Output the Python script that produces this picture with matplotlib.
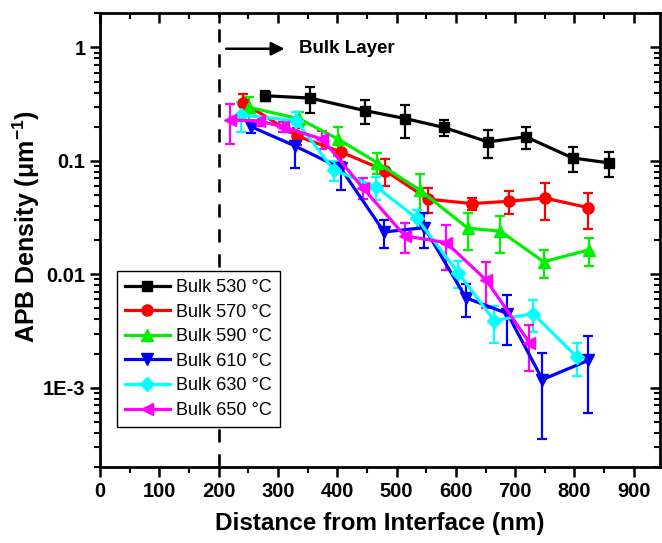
import matplotlib
matplotlib.use('Agg')
import matplotlib.pyplot as plt
from matplotlib.ticker import FixedLocator, LogLocator, MultipleLocator, NullFormatter

plt.rcParams['font.family'] = ['Liberation Sans', 'DejaVu Sans']
plt.rcParams['mathtext.fontset'] = 'custom'
plt.rcParams['mathtext.rm'] = 'Liberation Sans'
plt.rcParams['mathtext.bf'] = 'Liberation Sans:bold'
plt.rcParams['lines.scale_dashes'] = False

# distance from interface (nm), APB density (um^-1), error
x_530 = [279, 354, 447, 515, 580, 654, 718, 797, 858]
y_530 = [0.375, 0.358, 0.277, 0.236, 0.197, 0.147, 0.163, 0.106, 0.096]
e_530 = [0.04, 0.092, 0.067, 0.076, 0.03, 0.04, 0.037, 0.026, 0.024]

x_570 = [241, 333, 406, 481, 553, 627, 689, 750, 823]
y_570 = [0.327, 0.165, 0.12, 0.082, 0.046, 0.042, 0.044, 0.047, 0.0387]
e_570 = [0.063, 0.028, 0.022, 0.022, 0.0115, 0.005, 0.01, 0.0167, 0.0135]

x_590 = [252, 336, 402, 467, 540, 620, 675, 748, 824]
y_590 = [0.296, 0.235, 0.155, 0.0966, 0.055, 0.0255, 0.024, 0.0129, 0.0164]
e_590 = [0.068, 0.035, 0.045, 0.02, 0.0215, 0.009, 0.0085, 0.0036, 0.0045]

x_610 = [255, 328, 406, 479, 547, 617, 687, 746, 823]
y_610 = [0.2, 0.136, 0.086, 0.0236, 0.0258, 0.0062, 0.0045, 0.00118, 0.00174]
e_610 = [0.025, 0.049, 0.031, 0.0065, 0.0089, 0.002, 0.0021, 0.00083, 0.00114]

x_630 = [237, 331, 394, 466, 534, 604, 665, 730, 804]
y_630 = [0.255, 0.225, 0.083, 0.059, 0.0312, 0.0103, 0.0039, 0.0045, 0.00187]
e_630 = [0.075, 0.047, 0.017, 0.0135, 0.006, 0.00275, 0.0014, 0.0014, 0.0006]

x_650 = [219, 268, 308, 375, 443, 514, 584, 651, 724]
y_650 = [0.229, 0.225, 0.2, 0.155, 0.058, 0.0218, 0.019, 0.0089, 0.0025]
e_650 = [0.087, 0.02, 0.02, 0.027, 0.012, 0.0065, 0.0082, 0.0039, 0.0011]

labels = ['Bulk 530 °C', 'Bulk 570 °C', 'Bulk 590 °C', 'Bulk 610 °C', 'Bulk 630 °C', 'Bulk 650 °C']
colors = ['black', 'red', '#00f000', 'blue', 'cyan', 'magenta']
markers = ['s', 'o', '^', 'v', 'D', '<']
msizes = [7, 8, 9, 9, 7, 9]

series = [(x_530, y_530, e_530), (x_570, y_570, e_570), (x_590, y_590, e_590),
          (x_610, y_610, e_610), (x_630, y_630, e_630), (x_650, y_650, e_650)]

fig = plt.figure(figsize=(6.62, 5.43), dpi=100)
ax = fig.add_axes([0.151, 0.14, 0.8467, 0.8355])

handles = []
for (xs, ys, es), lab, c, m, ms in zip(series, labels, colors, markers, msizes):
    cont = ax.errorbar(xs, ys, yerr=es, color=c, marker=m, markersize=ms, linewidth=2.3,
                       elinewidth=1.6, capsize=3.5, capthick=1.6, label=lab)
    handles.append(cont[0])

ax.axvline(200, color='black', linewidth=1.9, dashes=(9.5, 8.5))
ax.annotate('', xy=(316, 0.974), xytext=(208, 0.974),
            arrowprops=dict(arrowstyle='-|>', color='black', lw=1.8, mutation_scale=20))
ax.text(335, 0.974, 'Bulk Layer', fontsize=13.5, fontweight='bold', va='center', ha='left')

ax.set_yscale('log')
ax.set_xlim(0, 945)
ax.set_ylim(2e-4, 2)

ax.xaxis.set_major_locator(MultipleLocator(100))
ax.xaxis.set_minor_locator(MultipleLocator(50))
ax.yaxis.set_major_locator(FixedLocator([1e-3, 1e-2, 1e-1, 1]))
ax.set_yticklabels(['1E-3', '0.01', '0.1', '1'])
ax.yaxis.set_minor_locator(LogLocator(base=10, subs=range(2, 10)))
ax.yaxis.set_minor_formatter(NullFormatter())

for lab in ax.get_xticklabels() + ax.get_yticklabels():
    lab.set_fontweight('bold')
ax.tick_params(axis='both', which='major', labelsize=14.5, width=1.8, length=7)
ax.tick_params(axis='both', which='minor', width=1.5, length=4.5)
ax.tick_params(axis='both', which='both', top=True, right=True, labeltop=False, labelright=False)

# ticks on top and right point inward
for t in ax.xaxis.get_ticklines(minor=False)[1::2] + ax.xaxis.get_ticklines(minor=True)[1::2]:
    t.set_marker(3)
for t in ax.yaxis.get_ticklines(minor=False)[1::2] + ax.yaxis.get_ticklines(minor=True)[1::2]:
    t.set_marker(0)

for sp in ax.spines.values():
    sp.set_linewidth(2)

ax.set_xlabel('Distance from Interface (nm)', fontsize=17.5, fontweight='bold', labelpad=8)
ax.set_ylabel(r'APB Density ($\mathregular{μm^{-1}}$)', fontsize=18, fontweight='bold')
ax.yaxis.set_label_coords(-0.103, 0.53)

leg = ax.legend(handles, labels, loc='lower left', bbox_to_anchor=(0.03, 0.088), borderaxespad=0,
                fontsize=13, fancybox=False, edgecolor='black', framealpha=1,
                handlelength=2.5, labelspacing=0.42, borderpad=0.45, handletextpad=0.35)
leg.get_frame().set_linewidth(1)

fig.savefig('out.png', dpi=100)
